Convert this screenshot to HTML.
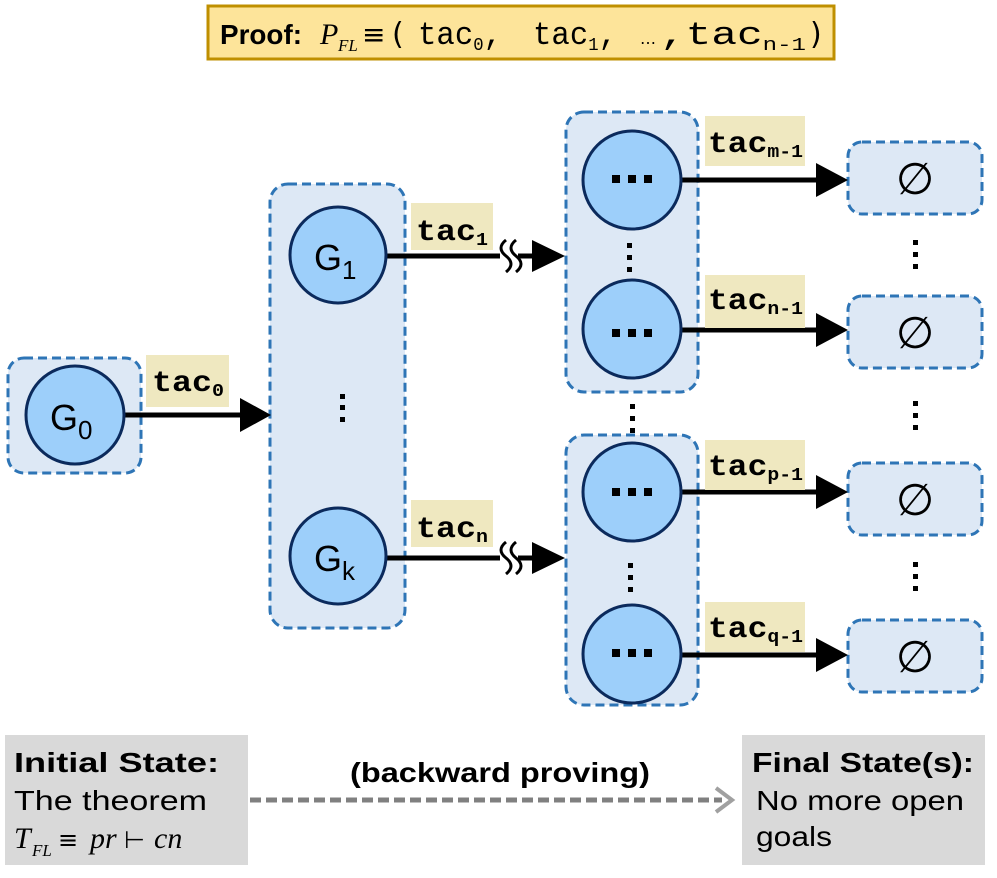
<!DOCTYPE html>
<html><head><meta charset="utf-8"><style>
html,body{margin:0;padding:0;background:#fff;}
svg{display:block;}
</style></head><body>
<svg width="997" height="878" viewBox="0 0 997 878" xmlns="http://www.w3.org/2000/svg">
<rect x="208" y="6" width="626" height="53" fill="#fde49a" stroke="#bf8f00" stroke-width="3"/>
<text x="220" y="44" font-family="'Liberation Sans', Arial, sans-serif" font-size="28" font-weight="bold" textLength="82" lengthAdjust="spacingAndGlyphs">Proof:</text>
<text x="320" y="44" font-family="'Liberation Serif', serif" font-style="italic" font-size="30">P</text>
<text x="338" y="51" font-family="'Liberation Serif', serif" font-style="italic" font-size="17">FL</text>
<text x="362" y="44" font-family="'DejaVu Sans', sans-serif" font-size="28">≡</text>
<text x="392" y="44" font-family="'DejaVu Sans', sans-serif" font-size="30">(</text>
<g font-family="'Liberation Mono', 'Courier New', monospace" font-size="32">
<text x="418" y="44" textLength="84" lengthAdjust="spacingAndGlyphs">tac<tspan font-size="18" dy="6">0</tspan><tspan dy="-6">,</tspan></text>
<text x="533" y="44" textLength="84" lengthAdjust="spacingAndGlyphs">tac<tspan font-size="18" dy="6">1</tspan><tspan dy="-6">,</tspan></text>
<text x="660" y="44" textLength="146" lengthAdjust="spacingAndGlyphs">,tac<tspan font-size="18" dy="6">n-1</tspan></text>
</g>
<text x="640" y="44" font-family="'DejaVu Sans', sans-serif" font-size="16">…</text>
<text x="810" y="44" font-family="'DejaVu Sans', sans-serif" font-size="30">)</text>

<g fill="#dde8f5" stroke="#2e75b6" stroke-width="3" stroke-dasharray="9,5">
<rect x="8" y="358" width="133" height="115" rx="16"/>
<rect x="270" y="184" width="135" height="444" rx="18"/>
<rect x="566" y="112" width="132" height="280" rx="18"/>
<rect x="566" y="435" width="132" height="270" rx="18"/>
<rect x="848" y="142" width="134" height="72" rx="14"/>
<rect x="848" y="296" width="134" height="72" rx="14"/>
<rect x="848" y="463" width="134" height="72" rx="14"/>
<rect x="848" y="620" width="134" height="72" rx="14"/>
</g>

<g stroke="#000" stroke-width="5" fill="none">
<line x1="122" y1="415" x2="242" y2="415"/>
<line x1="385" y1="256" x2="500" y2="256"/>
<line x1="385" y1="558" x2="500" y2="558"/>
<line x1="680" y1="180" x2="818" y2="180"/>
<line x1="680" y1="330" x2="818" y2="330"/>
<line x1="680" y1="492" x2="818" y2="492"/>
<line x1="680" y1="655" x2="818" y2="655"/>
</g>
<g stroke="#000" stroke-width="3" fill="none">
<path d="M506 240 q-10 8 0 16 q10 8 0 16"/><path d="M516 240 q-10 8 0 16 q10 8 0 16"/>
<line x1="518" y1="256" x2="535" y2="256" stroke-width="5"/>
<path d="M506 542 q-10 8 0 16 q10 8 0 16"/><path d="M516 542 q-10 8 0 16 q10 8 0 16"/>
<line x1="518" y1="558" x2="535" y2="558" stroke-width="5"/>
</g>
<g fill="#000">
<polygon points="240,398 271,415 240,432"/>
<polygon points="532,240 565,256 532,272"/>
<polygon points="532,542 565,558 532,574"/>
<polygon points="816,163 848,180 816,197"/>
<polygon points="816,313 848,330 816,347"/>
<polygon points="816,475 848,492 816,509"/>
<polygon points="816,638 848,655 816,672"/>
</g>

<g fill="#efe8c0">
<rect x="146" y="355" width="83" height="52"/>
<rect x="411" y="203" width="82" height="47"/>
<rect x="411" y="500" width="82" height="47"/>
<rect x="705" y="116" width="100" height="50"/>
<rect x="705" y="275" width="100" height="53"/>
<rect x="705" y="440" width="100" height="50"/>
<rect x="705" y="602" width="100" height="50"/>
</g>
<g font-family="'Liberation Mono', 'Courier New', monospace" font-weight="bold" font-size="30">
<text x="152" y="391" textLength="72" lengthAdjust="spacingAndGlyphs">tac<tspan font-size="18" dy="5">0</tspan></text>
<text x="416" y="240" textLength="72" lengthAdjust="spacingAndGlyphs">tac<tspan font-size="18" dy="5">1</tspan></text>
<text x="416" y="537" textLength="72" lengthAdjust="spacingAndGlyphs">tac<tspan font-size="18" dy="5">n</tspan></text>
<text x="708" y="152" textLength="95" lengthAdjust="spacingAndGlyphs">tac<tspan font-size="18" dy="5">m-1</tspan></text>
<text x="708" y="309" textLength="95" lengthAdjust="spacingAndGlyphs">tac<tspan font-size="18" dy="5">n-1</tspan></text>
<text x="708" y="475" textLength="95" lengthAdjust="spacingAndGlyphs">tac<tspan font-size="18" dy="5">p-1</tspan></text>
<text x="708" y="637" textLength="95" lengthAdjust="spacingAndGlyphs">tac<tspan font-size="18" dy="5">q-1</tspan></text>
</g>

<g fill="#9dcffa" stroke="#0b2a5c" stroke-width="3">
<circle cx="75" cy="415" r="49"/>
<circle cx="338" cy="255" r="48"/>
<circle cx="338" cy="556" r="48"/>
<circle cx="632" cy="180" r="49"/>
<circle cx="632" cy="329" r="49"/>
<circle cx="632" cy="492" r="49"/>
<circle cx="632" cy="654" r="49"/>
</g>
<g font-family="'Liberation Sans', Arial, sans-serif" font-size="36">
<text x="50" y="430">G<tspan font-size="26" dy="9">0</tspan></text>
<text x="314" y="270">G<tspan font-size="26" dy="9">1</tspan></text>
<text x="314" y="571">G<tspan font-size="26" dy="9">k</tspan></text>
</g>
<g fill="#000">
<rect x="612" y="175" width="8" height="8"/><rect x="628" y="175" width="8" height="8"/><rect x="644" y="175" width="8" height="8"/>
<rect x="612" y="329" width="8" height="8"/><rect x="628" y="329" width="8" height="8"/><rect x="644" y="329" width="8" height="8"/>
<rect x="612" y="488" width="8" height="8"/><rect x="628" y="488" width="8" height="8"/><rect x="644" y="488" width="8" height="8"/>
<rect x="612" y="649" width="8" height="8"/><rect x="628" y="649" width="8" height="8"/><rect x="644" y="649" width="8" height="8"/>
<rect x="340" y="394" width="5" height="5"/><rect x="340" y="405" width="5" height="5"/><rect x="340" y="417" width="5" height="5"/>
<rect x="627" y="243" width="5" height="5"/><rect x="627" y="255" width="5" height="5"/><rect x="627" y="267" width="5" height="5"/>
<rect x="630" y="404" width="5" height="5"/><rect x="630" y="416" width="5" height="5"/><rect x="630" y="428" width="5" height="5"/>
<rect x="628" y="563" width="5" height="5"/><rect x="628" y="575" width="5" height="5"/><rect x="628" y="587" width="5" height="5"/>
<rect x="913" y="240" width="5" height="5"/><rect x="913" y="252" width="5" height="5"/><rect x="913" y="264" width="5" height="5"/>
<rect x="913" y="401" width="5" height="5"/><rect x="913" y="413" width="5" height="5"/><rect x="913" y="425" width="5" height="5"/>
<rect x="913" y="562" width="5" height="5"/><rect x="913" y="574" width="5" height="5"/><rect x="913" y="586" width="5" height="5"/>
</g>
<g font-family="'Liberation Sans', Arial, sans-serif" font-size="44" text-anchor="middle">
<text x="915" y="194">∅</text>
<text x="915" y="348">∅</text>
<text x="915" y="515">∅</text>
<text x="915" y="672">∅</text>
</g>

<rect x="5" y="735" width="243" height="130" fill="#d9d9d9"/>
<rect x="742" y="735" width="243" height="130" fill="#d9d9d9"/>
<g font-family="'Liberation Sans', Arial, sans-serif" font-size="28">
<text x="14" y="772" font-weight="bold" textLength="205" lengthAdjust="spacingAndGlyphs">Initial State:</text>
<text x="14" y="810" textLength="193" lengthAdjust="spacingAndGlyphs">The theorem</text>
<text x="752" y="772" font-weight="bold" textLength="222" lengthAdjust="spacingAndGlyphs">Final State(s):</text>
<text x="756" y="810" textLength="208" lengthAdjust="spacingAndGlyphs">No more open</text>
<text x="756" y="846" textLength="76" lengthAdjust="spacingAndGlyphs">goals</text>
<text x="350" y="782" font-weight="bold" textLength="300" lengthAdjust="spacingAndGlyphs">(backward proving)</text>
</g>
<text x="14" y="848" font-family="'Liberation Serif', serif" font-style="italic" font-size="30">T</text>
<text x="32" y="856" font-family="'Liberation Serif', serif" font-style="italic" font-size="17">FL</text>
<text x="58" y="848" font-family="'DejaVu Sans', sans-serif" font-size="24">≡</text>
<text x="90" y="848" font-family="'Liberation Serif', serif" font-style="italic" font-size="30">pr</text>
<text x="124" y="848" font-family="'DejaVu Sans', sans-serif" font-size="24">⊢</text>
<text x="154" y="848" font-family="'Liberation Serif', serif" font-style="italic" font-size="30">cn</text>
<line x1="250" y1="800" x2="722" y2="800" stroke="#808080" stroke-width="5" stroke-dasharray="11,5"/>
<polyline points="716,788 732,800 716,812" fill="none" stroke="#a0a0a0" stroke-width="4"/>
</svg>
</body></html>
